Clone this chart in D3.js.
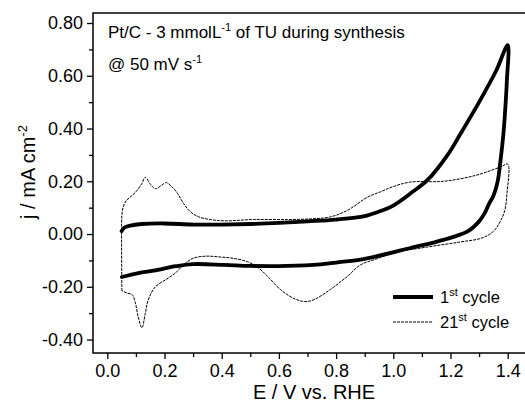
<!DOCTYPE html>
<html>
<head>
<meta charset="utf-8">
<script src="https://cdn.jsdelivr.net/npm/d3@7"></script>
<style>
  body { margin: 0; background: #fff; }
  svg { display: block; font-family: "Liberation Sans", Arial, sans-serif; }
  .tick text { font-size: 18px; fill: #000; }
  .axis-title { font-size: 20px; }
  .note { font-size: 17px; }
  .legend text { font-size: 16.5px; }
</style>
</head>
<body>
<div id="chart"></div>
<script>
// E / V vs. RHE, j / mA cm-2
const cycle1 = [
  [0.05, 0.011], [0.06, 0.025], [0.08, 0.032], [0.12, 0.038], [0.2, 0.04],
  [0.3, 0.036], [0.4, 0.036], [0.5, 0.038], [0.6, 0.042], [0.7, 0.048],
  [0.8, 0.055], [0.9, 0.068], [0.955, 0.087], [1.0, 0.108], [1.07, 0.162],
  [1.12, 0.205], [1.19, 0.3], [1.235, 0.38], [1.3, 0.5], [1.36, 0.62],
  [1.4, 0.716],
  [1.397, 0.58], [1.39, 0.45], [1.385, 0.38], [1.375, 0.28], [1.365, 0.2],
  [1.35, 0.145], [1.335, 0.115], [1.32, 0.08], [1.3, 0.048], [1.26, 0.01],
  [1.175, -0.022], [1.06, -0.053], [0.94, -0.085], [0.885, -0.097],
  [0.8, -0.108], [0.745, -0.115], [0.63, -0.121], [0.5, -0.121], [0.41, -0.117],
  [0.3, -0.114], [0.24, -0.122], [0.168, -0.138], [0.108, -0.148], [0.051, -0.163]
];

const cycle21 = [
  [0.051, -0.215], [0.05, 0.0], [0.051, 0.07], [0.055, 0.1], [0.065, 0.125],
  [0.08, 0.14], [0.1, 0.16], [0.12, 0.19], [0.133, 0.215], [0.15, 0.19],
  [0.168, 0.172], [0.19, 0.185], [0.206, 0.195], [0.225, 0.18], [0.245, 0.155],
  [0.266, 0.117], [0.29, 0.085], [0.32, 0.065], [0.36, 0.055], [0.41, 0.05],
  [0.51, 0.055], [0.63, 0.055], [0.72, 0.058], [0.78, 0.065], [0.84, 0.09],
  [0.91, 0.14], [0.955, 0.16], [1.0, 0.18], [1.06, 0.197], [1.175, 0.2],
  [1.29, 0.223], [1.374, 0.254], [1.4, 0.265],
  [1.397, 0.15], [1.39, 0.09], [1.375, 0.05], [1.35, 0.01], [1.31, -0.015],
  [1.235, -0.03], [1.12, -0.049], [1.0, -0.072], [0.94, -0.095], [0.885, -0.117],
  [0.84, -0.16], [0.78, -0.21], [0.72, -0.25], [0.69, -0.256], [0.65, -0.243],
  [0.605, -0.21], [0.56, -0.16], [0.525, -0.125], [0.49, -0.105], [0.44, -0.092],
  [0.395, -0.087], [0.343, -0.084], [0.3, -0.092], [0.266, -0.117], [0.238, -0.148],
  [0.203, -0.174], [0.168, -0.2], [0.143, -0.25], [0.133, -0.3], [0.121, -0.355],
  [0.108, -0.314], [0.098, -0.26], [0.087, -0.23], [0.07, -0.224], [0.051, -0.215]
];

const xTicks = [0, 0.2, 0.4, 0.6, 0.8, 1.0, 1.2, 1.4];
const xMinor = [0.1, 0.3, 0.5, 0.7, 0.9, 1.1, 1.3];
const yTicks = [-0.4, -0.2, 0, 0.2, 0.4, 0.6, 0.8];
const yMinor = [-0.3, -0.1, 0.1, 0.3, 0.5, 0.7];

(function () {
  const W = 525, H = 410;
  const plotLeft = 93, plotTop = 13, plotBottom = 353;

  const x = d3.scaleLinear().domain([-0.05, 1.47]).range([plotLeft, plotLeft + 1.52 * 286]);
  const y = d3.scaleLinear().domain([-0.451, 0.838]).range([plotBottom, plotTop]);

  // plain hyphen for negatives, like the original
  const fmtY = d => d3.format(".2f")(d).replace("\u2212", "-");

  const svg = d3.select("#chart").append("svg")
    .attr("width", W)
    .attr("height", H);

  // frame (right side runs off the picture)
  svg.append("rect")
    .attr("x", plotLeft)
    .attr("y", plotTop)
    .attr("width", x.range()[1] - plotLeft)
    .attr("height", plotBottom - plotTop)
    .attr("fill", "none")
    .attr("stroke", "#000")
    .attr("stroke-width", 1.5);

  // minor ticks first, majors with labels on top
  svg.append("g")
    .attr("transform", `translate(0,${plotBottom})`)
    .call(d3.axisBottom(x).tickValues(xMinor).tickSize(4).tickFormat(""))
    .call(g => g.select(".domain").remove())
    .selectAll("line").attr("stroke-width", 1.3);

  svg.append("g")
    .attr("transform", `translate(0,${plotBottom})`)
    .call(d3.axisBottom(x).tickValues(xTicks).tickSize(6).tickPadding(5).tickFormat(d3.format(".1f")))
    .call(g => g.select(".domain").remove())
    .selectAll("line").attr("stroke-width", 1.3);

  svg.append("g")
    .attr("transform", `translate(${plotLeft},0)`)
    .call(d3.axisLeft(y).tickValues(yMinor).tickSize(4).tickFormat(""))
    .call(g => g.select(".domain").remove())
    .selectAll("line").attr("stroke-width", 1.3);

  svg.append("g")
    .attr("transform", `translate(${plotLeft},0)`)
    .call(d3.axisLeft(y).tickValues(yTicks).tickSize(6).tickPadding(4).tickFormat(fmtY))
    .call(g => g.select(".domain").remove())
    .selectAll("line").attr("stroke-width", 1.3);

  svg.selectAll("g").attr("font-family", null).attr("font-size", null);

  // axis titles
  svg.append("text")
    .attr("class", "axis-title")
    .attr("x", 314)
    .attr("y", 399)
    .attr("text-anchor", "middle")
    .text("E / V vs. RHE");

  const yt = svg.append("text")
    .attr("class", "axis-title")
    .attr("transform", "translate(35,172) rotate(-90)")
    .attr("text-anchor", "middle");
  yt.append("tspan").text("j / mA cm");
  yt.append("tspan").attr("dy", -8).attr("font-size", 13).text("-2");

  // curves
  const line = d3.line()
    .x(d => x(d[0]))
    .y(d => y(d[1]))
    .curve(d3.curveCatmullRom.alpha(0.5));

  svg.append("path")
    .datum(cycle21)
    .attr("d", line)
    .attr("fill", "none")
    .attr("stroke", "#000")
    .attr("stroke-width", 1)
    .attr("stroke-dasharray", "3,1");

  svg.append("path")
    .datum(cycle1)
    .attr("d", line)
    .attr("fill", "none")
    .attr("stroke", "#000")
    .attr("stroke-width", 3.8)
    .attr("stroke-linejoin", "round")
    .attr("stroke-linecap", "round");

  // notes
  const n1 = svg.append("text").attr("class", "note").attr("x", 108).attr("y", 38);
  n1.append("tspan").text("Pt/C - 3 mmolL");
  n1.append("tspan").attr("dy", -7).attr("font-size", 11).text("-1");
  n1.append("tspan").attr("dy", 7).text(" of TU during synthesis");

  const n2 = svg.append("text").attr("class", "note").attr("x", 108).attr("y", 70);
  n2.append("tspan").text("@ 50 mV s");
  n2.append("tspan").attr("dy", -7).attr("font-size", 11).text("-1");

  // legend
  const legend = svg.append("g").attr("class", "legend");
  const items = [
    { pre: "1", sup: "st", w: 3.8, dash: null, y: 297 },
    { pre: "21", sup: "st", w: 1, dash: "3,1", y: 322 }
  ];
  items.forEach(it => {
    legend.append("line")
      .attr("x1", 393).attr("x2", 433)
      .attr("y1", it.y).attr("y2", it.y)
      .attr("stroke", "#000")
      .attr("stroke-width", it.w)
      .attr("stroke-dasharray", it.dash);
    const t = legend.append("text").attr("x", 440).attr("y", it.y + 6);
    t.append("tspan").text(it.pre);
    t.append("tspan").attr("dy", -7).attr("font-size", 11).text(it.sup);
    t.append("tspan").attr("dy", 7).text(" cycle");
  });
})();
</script>
</body>
</html>
